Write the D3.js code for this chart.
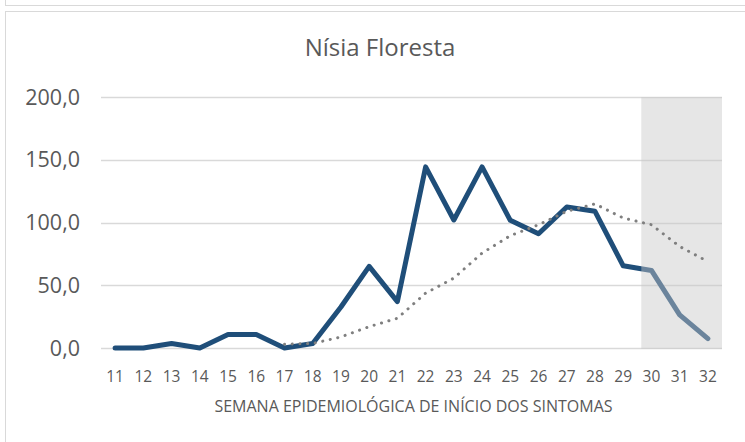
<!DOCTYPE html>
<html>
<head>
<meta charset="utf-8">
<script src="https://cdn.jsdelivr.net/npm/d3@7"></script>
<style>
  body { margin: 0; background: #fff; }
  text { font-family: "Open Sans", sans-serif; fill: #595959; }
</style>
</head>
<body>
<div id="chart"></div>
<script>
// weeks and values
let weeks = [11, 12, 13, 14, 15, 16, 17, 18, 19, 20, 21, 22, 23, 24, 25, 26, 27, 28, 29, 30, 31, 32];
let incidence = [0, 0, 3.6, 0, 10.7, 10.7, 0, 3.6, 32.7, 65.0, 37.0, 144.3, 102.0, 144.3, 101.7, 91.0, 112.4, 108.9, 65.5, 61.8, 26.4, 7.5];
let movingAvg = [null, null, null, null, null, null, 3.0, 3.6, 8.8, 17.0, 23.7, 43.7, 55.7, 75.6, 89.5, 98.2, 108.9, 114.8, 103.6, 98.2, 80.9, 68.9];
let shadedWeeks = [30, 31, 32];
let yTicks = [0, 50, 100, 150, 200];

let width = 745, height = 442;
let margin = {top: 97, right: 23, bottom: 94, left: 101};

let svg = d3.select("#chart").append("svg")
    .attr("width", width)
    .attr("height", height);

// outer chart borders (bottom of the previous box and this box)
svg.append("rect")
    .attr("x", 5.5).attr("y", -20)
    .attr("width", 800).attr("height", 25.5)
    .style("fill", "none").style("stroke", "#d9d9d9");
svg.append("rect")
    .attr("x", 5.5).attr("y", 11.5)
    .attr("width", 800).attr("height", 500)
    .style("fill", "none").style("stroke", "#d9d9d9");

let x = d3.scaleBand()
    .domain(weeks)
    .range([margin.left, width - margin.right]);

let y = d3.scaleLinear()
    .domain([0, 200])
    .range([height - margin.bottom, margin.top]);

let cx = d => x(d) + x.bandwidth() / 2;

// gridlines
svg.append("g")
    .selectAll("line")
    .data(yTicks)
    .join("line")
    .attr("x1", margin.left)
    .attr("x2", width - margin.right)
    .attr("y1", d => Math.round(y(d)) + 0.5)
    .attr("y2", d => Math.round(y(d)) + 0.5)
    .style("stroke", "#d9d9d9")
    .style("stroke-width", 1.5);

// y labels
svg.append("g")
    .selectAll("text")
    .data(yTicks)
    .join("text")
    .attr("x", 80)
    .attr("y", d => y(d))
    .attr("dy", "0.35em")
    .style("text-anchor", "end")
    .style("font-size", "21.5px")
    .text(d => d3.format(".1f")(d).replace(".", ","));

// x labels
svg.append("g")
    .selectAll("text")
    .data(weeks)
    .join("text")
    .attr("x", d => cx(d))
    .attr("y", 377)
    .attr("dy", "0.35em")
    .style("text-anchor", "middle")
    .style("font-size", "15.5px")
    .text(d => d);

let line = d3.line()
    .defined(d => d[1] != null)
    .x(d => cx(d[0]))
    .y(d => y(d[1]));

svg.append("path")
    .datum(weeks.map((w, i) => [w, incidence[i]]))
    .attr("d", line)
    .style("fill", "none")
    .style("stroke", "#1f4e79")
    .style("stroke-width", 5)
    .style("stroke-linejoin", "round")
    .style("stroke-linecap", "round");

// shaded weeks, laid over the solid line
let shadeStart = x(shadedWeeks[0]) + 4;
svg.append("rect")
    .attr("x", shadeStart)
    .attr("y", y(200))
    .attr("width", x(shadedWeeks[shadedWeeks.length - 1]) + x.bandwidth() - shadeStart)
    .attr("height", y(0) - y(200) + 1)
    .style("fill", "#c8c8c8")
    .style("opacity", 0.45);

svg.append("path")
    .datum(weeks.map((w, i) => [w, movingAvg[i]]))
    .attr("d", line)
    .style("fill", "none")
    .style("stroke", "#7f7f7f")
    .style("stroke-width", 3)
    .style("stroke-dasharray", "0.1 7.6")
    .style("stroke-linecap", "round");

svg.append("text")
    .attr("x", 380)
    .attr("y", 48)
    .attr("dy", "0.35em")
    .style("text-anchor", "middle")
    .style("font-size", "24px")
    .text("Nísia Floresta");

svg.append("text")
    .attr("x", (margin.left + width - margin.right) / 2 + 2)
    .attr("y", 406)
    .attr("dy", "0.35em")
    .style("text-anchor", "middle")
    .style("font-size", "16px")
    .text("SEMANA EPIDEMIOLÓGICA DE INÍCIO DOS SINTOMAS");
</script>
</body>
</html>
